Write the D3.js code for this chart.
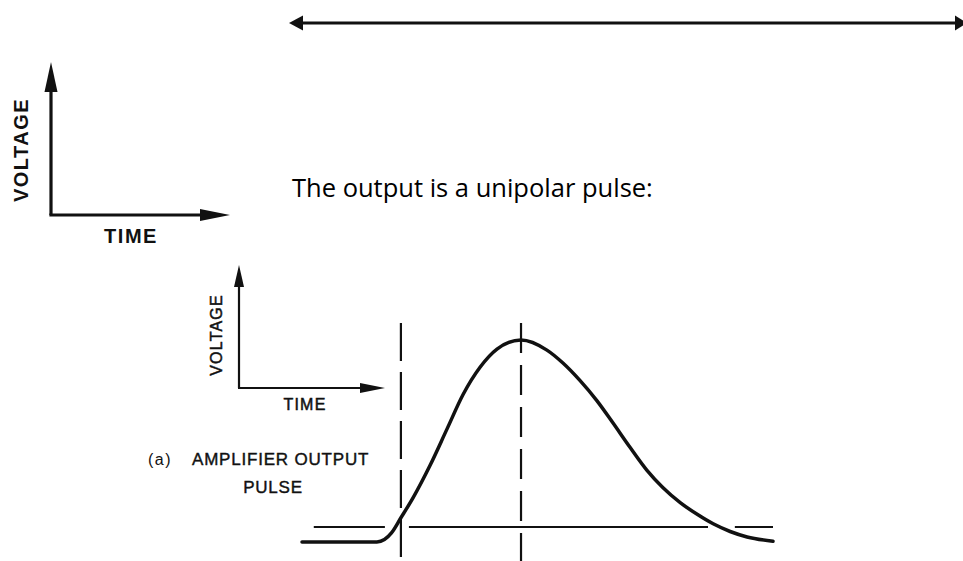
<!DOCTYPE html>
<html>
<head>
<meta charset="utf-8">
<script src="https://cdn.jsdelivr.net/npm/d3@7"></script>
<style>
  body { margin: 0; background: #fff; }
  svg { display: block; }
  .diag { font-family: "Liberation Sans", Arial, sans-serif; fill: #111; }
</style>
</head>
<body>
<svg></svg>
<script>
const width = 963;
const height = 561;

// pulse shape (time in arbitrary units, voltage normalised to peak)
const pulseTime = [0, 15.9, 17.5, 19.0, 21.0, 23.6, 27.2, 30.8, 34.2, 37.8, 41.4, 46.5,
                   52.0, 55.4, 59.0, 62.6, 66.0, 69.6, 73.2, 76.6, 80.3, 83.9, 87.3, 90.9, 94.5, 100];
const pulseVolt = [0, 0, 0.012, 0.045, 0.12, 0.22, 0.38, 0.56, 0.73, 0.865, 0.955, 1.0,
                   0.95, 0.886, 0.80, 0.70, 0.59, 0.47, 0.356, 0.27, 0.195, 0.137, 0.09, 0.052, 0.025, 0.004];
// thin reference level, broken where the curve and markers cross it
const refLevel = 0.074;
const refSegments = [[2.5, 17.6], [22.7, 86.2], [91.9, 100]];
// dashed markers: pulse start and pulse peak
const markerTimes = [21.0, 46.5];
const markerRange = [-0.094, 1.084];

const caption = "The output is a unipolar pulse:";
const pulseLabel = ["AMPLIFIER OUTPUT", "PULSE"];

const svg = d3.select('svg').attr('width', width).attr('height', height);

const x = d3.scaleLinear().domain([0, 100]).range([302, 773]);
const y = d3.scaleLinear().domain([0, 1]).range([542, 340]);

function arrowHead(g, tip, dir, len, wid) {
  // dir: unit vector pointing toward tip
  const [tx, ty] = tip, [dx, dy] = dir;
  const bx = tx - dx * len, by = ty - dy * len;
  const px = -dy * wid / 2, py = dx * wid / 2;
  g.append('path')
    .attr('d', `M${tx},${ty}L${bx + px},${by + py}L${bx - px},${by - py}Z`)
    .attr('fill', '#111');
}

function line(g, x1, y1, x2, y2, w) {
  g.append('line')
    .attr('x1', x1).attr('y1', y1).attr('x2', x2).attr('y2', y2)
    .attr('stroke', '#111').attr('stroke-width', w);
}

// top double arrow
const topArrow = svg.append('g');
line(topArrow, 300, 23, 958, 23, 3);
arrowHead(topArrow, [289, 23], [-1, 0], 14, 15);
arrowHead(topArrow, [967, 23], [1, 0], 12, 15);

// large voltage/time icon
const big = svg.append('g');
line(big, 51, 215, 51, 85, 3.2);
line(big, 49.4, 215, 205, 215, 3.2);
arrowHead(big, [51, 62], [0, -1], 30, 13);
arrowHead(big, [230, 215], [1, 0], 30, 12);
big.append('text').attr('class', 'diag')
  .attr('transform', 'translate(28,150) rotate(-90)')
  .attr('text-anchor', 'middle')
  .attr('font-size', 20).attr('font-weight', 'bold').attr('letter-spacing', 1.5)
  .text('VOLTAGE');
big.append('text').attr('class', 'diag')
  .attr('x', 131).attr('y', 243)
  .attr('text-anchor', 'middle')
  .attr('font-size', 20).attr('font-weight', 'bold').attr('letter-spacing', 1.5)
  .text('TIME');

// caption
svg.append('text')
  .attr('x', 292).attr('y', 197)
  .attr('font-family', '"Open Sans", "Noto Sans", sans-serif')
  .attr('font-size', 25.5)
  .attr('fill', '#000')
  .text(caption);

// small voltage/time icon
const small = svg.append('g');
line(small, 239, 388, 239, 282, 2.2);
line(small, 238, 388, 365, 388, 2.2);
arrowHead(small, [239, 265], [0, -1], 22, 10);
arrowHead(small, [385, 388], [1, 0], 25, 10);
small.append('text').attr('class', 'diag')
  .attr('transform', 'translate(222,335) rotate(-90)')
  .attr('text-anchor', 'middle')
  .attr('font-size', 16).attr('letter-spacing', 1.2)
  .attr('stroke', '#111').attr('stroke-width', 0.5)
  .text('VOLTAGE');
small.append('text').attr('class', 'diag')
  .attr('x', 305).attr('y', 410)
  .attr('text-anchor', 'middle')
  .attr('font-size', 16).attr('letter-spacing', 1.2)
  .attr('stroke', '#111').attr('stroke-width', 0.5)
  .text('TIME');

// pulse label
const lab = svg.append('g').attr('class', 'diag');
lab.append('text')
  .attr('x', 148).attr('y', 465)
  .attr('font-size', 16).attr('letter-spacing', 1.5)
  .text('(a)');
lab.append('text')
  .attr('x', 192).attr('y', 465)
  .attr('font-size', 17).attr('letter-spacing', 0.8)
  .attr('stroke', '#111').attr('stroke-width', 0.4)
  .text(pulseLabel[0]);
lab.append('text')
  .attr('x', 273).attr('y', 493)
  .attr('text-anchor', 'middle')
  .attr('font-size', 17).attr('letter-spacing', 0.8)
  .attr('stroke', '#111').attr('stroke-width', 0.4)
  .text(pulseLabel[1]);

// reference level
svg.append('g').selectAll('line')
  .data(refSegments)
  .join('line')
  .attr('x1', d => x(d[0])).attr('x2', d => x(d[1]))
  .attr('y1', y(refLevel)).attr('y2', y(refLevel))
  .attr('stroke', '#111').attr('stroke-width', 2);

// dashed markers
svg.append('g').selectAll('line')
  .data(markerTimes)
  .join('line')
  .attr('x1', d => x(d)).attr('x2', d => x(d))
  .attr('y1', y(markerRange[1])).attr('y2', y(markerRange[0]))
  .attr('stroke', '#111').attr('stroke-width', 2.2)
  .attr('stroke-dasharray', (d, i) => i === 0 ? '38,11' : '30,12');

// the pulse itself
const pulse = pulseTime.map((t, i) => [t, pulseVolt[i]]);
svg.append('path')
  .datum(pulse)
  .attr('d', d3.line().x(d => x(d[0])).y(d => y(d[1])).curve(d3.curveMonotoneX))
  .attr('fill', 'none')
  .attr('stroke', '#111')
  .attr('stroke-width', 3.5)
  .attr('stroke-linecap', 'round');
</script>
</body>
</html>
